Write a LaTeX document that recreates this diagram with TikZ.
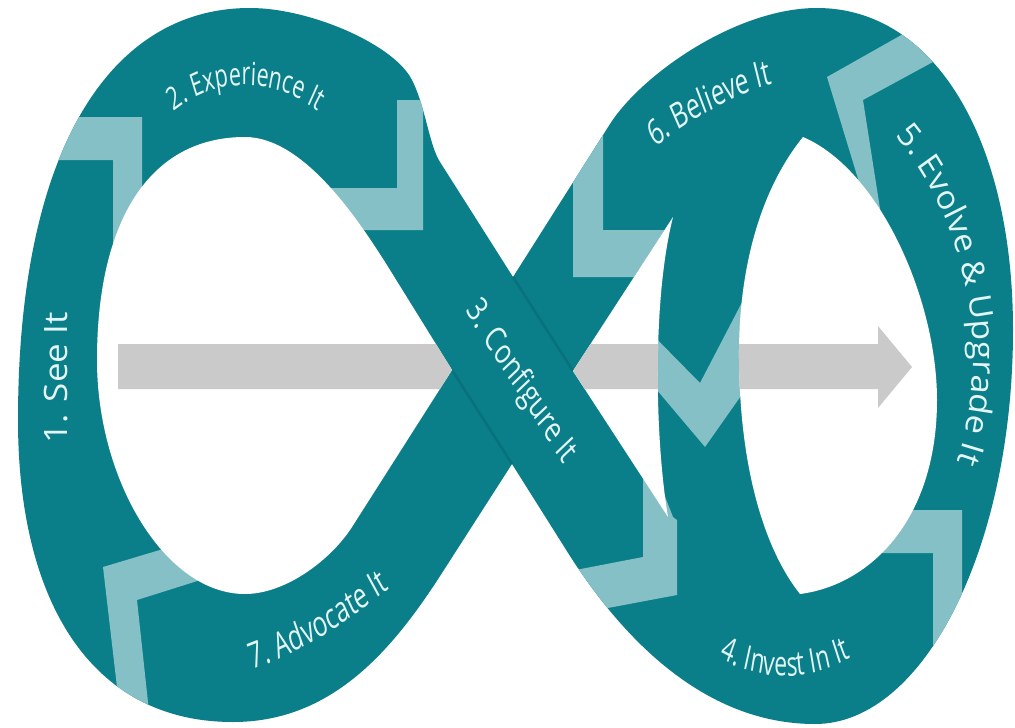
\documentclass[tikz,border=0pt]{standalone}
\usepackage{fontspec}
\newfontfamily\lblfont{Open Sans}
\newfontfamily\lblnarrow[FakeStretch=0.82]{Open Sans}
\usetikzlibrary{decorations.text}
\definecolor{band}{HTML}{0A7F89}
\definecolor{chev}{HTML}{84C0C6}
\definecolor{lbl}{HTML}{E3F5F5}
\definecolor{arrowgray}{HTML}{CACACA}
\definecolor{bandshade}{HTML}{055E66}

% outer silhouette of the figure-eight band (image pixels, y downwards)
\def\outline{(513,277) -- (610,124) .. controls (642.4,73.6) and (737,8) .. (817,8)
  .. controls (935,8) and (1013,140) .. (1013,330)
  .. controls (1013,547) and (924,724) .. (815,724)
  .. controls (700,724) and (618.6,631.6) .. (570,556)
  -- (512,464) -- (442,573) .. controls (393.4,648.6) and (333,722) .. (233,722)
  .. controls (90,722) and (18,600) .. (18,420)
  .. controls (18,150) and (110,8) .. (250,8)
  .. controls (310,8) and (394,44.4) .. (412,80)
  .. controls (425.5,106.7) and (429.2,145.2) .. (440,162) -- cycle}

% the three openings: left loop, small gap by the crossing, right lens
\def\holes{(452,370) -- (385,262) .. controls (360.7,224.2) and (305,137) .. (245,137)
  .. controls (150,137) and (97,220) .. (97,360)
  .. controls (97,480) and (165,594) .. (245,594)
  .. controls (285,594) and (330.4,560.6) .. (352,527) -- cycle
  (673,217) -- (573,371) -- (668,517) .. controls (655,440) and (652,300) .. (673,217) -- cycle
  (803,137) .. controls (760,190) and (738,270) .. (739,360)
  .. controls (740,470) and (765,550) .. (800,594)
  .. controls (870,585) and (937,520) .. (937,400)
  .. controls (937,300) and (880,170) .. (803,137) -- cycle}

\begin{document}
\begin{tikzpicture}[x=1pt,y=-1pt,
  chevron/.style={fill=chev},
  crossshade/.style={draw=bandshade, line width=2.5pt, opacity=0.4},
  stepnode/.style 2 args={text=lbl, inner sep=0pt, anchor=base, font=\lblfont\fontsize{#1}{#1}\selectfont, #2},
  steplabel/.style 2 args={decorate, decoration={text along path, text align=center, text color=lbl, text={|\lblnarrow\fontsize{#1}{#1}\selectfont|#2}}},
  steplabelwide/.style 2 args={decorate, decoration={text along path, text align=center, text color=lbl, text={|\lblfont\fontsize{#1}{#1}\selectfont|#2}}},
]
\useasboundingbox (0,0) rectangle (1015,728);
\fill[white] (0,0) rectangle (1015,728);

% band
\fill[band] \outline;

% direction chevrons
\begin{scope}
  \clip \outline;
  \fill[chevron] (0,117) -- (142,117) -- (142,270) -- (113,270) -- (113,160) -- (0,160) -- cycle;
  \fill[chevron] (397,100) -- (423,100) -- (423,230) -- (320,230) -- (320,188) -- (397,188) -- cycle;
  \fill[chevron] (573,90) -- (603,90) -- (603,230) -- (664.5,230) -- (634,277) -- (573,277) -- cycle;
  \fill[chevron] (827,77) -- (935,16) -- (955,50) -- (863,100) -- (881,215) -- (866,205) -- cycle;
  \fill[chevron] (640,322) -- (700,383) -- (750,287) -- (750,383) -- (705,447) -- (640,370) -- cycle;
  \fill[chevron] (643,440) -- (673,517) -- (677,520) -- (677,595) -- (560,617) -- (560,573) -- (643,557) -- cycle;
  \fill[chevron] (880,510) -- (962,510) -- (962,700) -- (933,700) -- (933,553) -- (880,553) -- cycle;
  \fill[chevron] (103,567) -- (210,535) -- (210,577) -- (137,600) -- (151,730) -- (122,730) -- cycle;
\end{scope}

% edges of the front strip where it passes over the back strip
\draw[crossshade] (513,277) -- (573,371);
\draw[crossshade] (452,370) -- (512,464);

% openings and the grey arrow seen through them
\fill[white] \holes;
\begin{scope}
  \clip \holes;
  \fill[arrowgray] (118,344) -- (878,344) -- (878,326) -- (912,367) -- (878,408) -- (878,389) -- (118,389) -- cycle;
\end{scope}

% step labels along the loops, set in a condensed frame
\begin{scope}[transform canvas={xscale=0.82}]
  \node[stepnode={36}{rotate=-52}] (configure) at (627.35,387.9) {\lblnarrow 3. Configure It};
  \path[steplabel={32}{2. Experience It}] ([shift={(-140:160)}]300,245) arc[start angle=-140, end angle=-40, radius=160];
  \path[steplabel={34}{4. Invest In It}] ([shift={(130:184)}]957.3,492) arc[start angle=130, end angle=50, radius=184];
  \path[steplabel={36}{6. Believe It}] ([shift={(-132:500)}]1071.3,566.6) arc[start angle=-132, end angle=-96, radius=500];
  \path[steplabel={36}{7. Advocate It}] ([shift={(80:600)}]131.6,96) arc[start angle=80, end angle=48, radius=600];
\end{scope}
% the two upright labels on the outer sides
\begin{scope}[transform canvas={xscale=0.92}]
  \node[stepnode={35}{rotate=90}] (see) at (73.9,378) {1. See It};
  \path[steplabelwide={34}{5. Evolve {\&} Upgrade It}] ([shift={(-55:332)}]725.6,356.8) arc[start angle=-55, end angle=31.6, radius=332];
\end{scope}
\end{tikzpicture}
\end{document}
